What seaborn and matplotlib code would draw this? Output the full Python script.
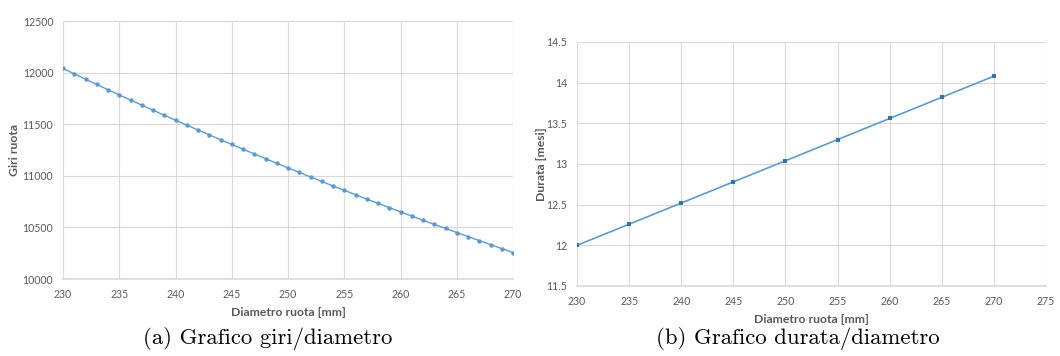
import matplotlib
matplotlib.use("Agg")
import matplotlib.pyplot as plt
import seaborn as sns
import pandas as pd

# ---- data ----
diam_giri = list(range(230, 271))
giri = [12040, 11988, 11936, 11885, 11834, 11784, 11734, 11685, 11636, 11587,
        11539, 11491, 11444, 11397, 11350, 11304, 11258, 11212, 11166, 11121,
        11077, 11033, 10989, 10945, 10902, 10859, 10817, 10775, 10733, 10692,
        10651, 10610, 10570, 10529, 10490, 10450, 10411, 10372, 10333, 10295,
        10256]
diam_durata = [230, 235, 240, 245, 250, 255, 260, 265, 270]
durata = [12.00, 12.26, 12.52, 12.78, 13.04, 13.30, 13.56, 13.82, 14.08]

xticks_a = [230, 235, 240, 245, 250, 255, 260, 265, 270]
yticks_a = [10000, 10500, 11000, 11500, 12000, 12500]
xticks_b = [230, 235, 240, 245, 250, 255, 260, 265, 270, 275]
yticks_b = [11.5, 12, 12.5, 13, 13.5, 14, 14.5]
ytick_labels_b = ["11.5", "12", "12.5", "13", "13.5", "14", "14.5"]

xlabel = "Diametro ruota [mm]"
ylabel_a = "Giri ruota"
ylabel_b = "Durata [mesi]"
caption_a = "(a) Grafico giri/diametro"
caption_b = "(b) Grafico durata/diametro"

sns.set_theme(style="white")
plt.rcParams['font.family'] = ['Lato', 'DejaVu Sans']

W, H = 1060, 356
fig = plt.figure(figsize=(W / 100, H / 100), dpi=100)
fig.patch.set_facecolor("white")

def ax_px(x0, x1, ytop, ybot):
    return fig.add_axes([x0 / W, 1 - ybot / H, (x1 - x0) / W, (ybot - ytop) / H])

TXT = "#595959"
GRID = "#d9d9d9"
LINE = "#5b9bd5"

def style(ax, xt, yt, ylab_labels=None):
    ax.set_xticks(xt)
    ax.set_yticks(yt)
    if ylab_labels is not None:
        ax.set_yticklabels(ylab_labels)
    ax.grid(True, color=GRID, linewidth=0.8)
    ax.set_axisbelow(True)
    for s in ax.spines.values():
        s.set_visible(False)
    ax.spines['bottom'].set_visible(True)
    ax.spines['bottom'].set_color(GRID)
    ax.tick_params(length=0, labelsize=7.6, labelcolor=TXT, pad=7)

# (a)
ax1 = ax_px(63, 513, 21, 279)
df_a = pd.DataFrame({"d": diam_giri, "g": giri})
sns.lineplot(data=df_a, x="d", y="g", ax=ax1, color=LINE, linewidth=1.0,
             marker="o", markersize=3.2, markeredgewidth=0, markerfacecolor=LINE)
ax1.set_xlim(230, 270)
ax1.set_ylim(10000, 12500)
style(ax1, xticks_a, yticks_a)
ax1.set_xlabel(xlabel, fontsize=8.8, fontweight="bold", color=TXT, labelpad=5)
ax1.set_ylabel(ylabel_a, fontsize=8.8, fontweight="bold", color=TXT)
ax1.yaxis.set_label_coords((20 - 63) / 450, 0.5)

# (b)
ax2 = ax_px(577, 1046, 42, 286)
df_b = pd.DataFrame({"d": diam_durata, "m": durata})
sns.lineplot(data=df_b, x="d", y="m", ax=ax2, color=LINE, linewidth=1.2,
             marker="s", markersize=3, markeredgewidth=0, markerfacecolor="#2e75b6")
ax2.set_xlim(230, 275)
ax2.set_ylim(11.5, 14.5)
style(ax2, xticks_b, yticks_b, ytick_labels_b)
ax2.set_xlabel(xlabel, fontsize=8.8, fontweight="bold", color=TXT, labelpad=5)
ax2.set_ylabel(ylabel_b, fontsize=8.8, fontweight="bold", color=TXT)
ax2.yaxis.set_label_coords((547 - 577) / 469, 0.5)

fig.text(268 / W, 1 - 338 / H, caption_a, family="cmr10", fontsize=16.4,
         ha="center", va="center", color="black")
fig.text(798 / W, 1 - 338 / H, caption_b, family="cmr10", fontsize=16.4,
         ha="center", va="center", color="black")

fig.savefig("out.png", dpi=100, facecolor="white")
